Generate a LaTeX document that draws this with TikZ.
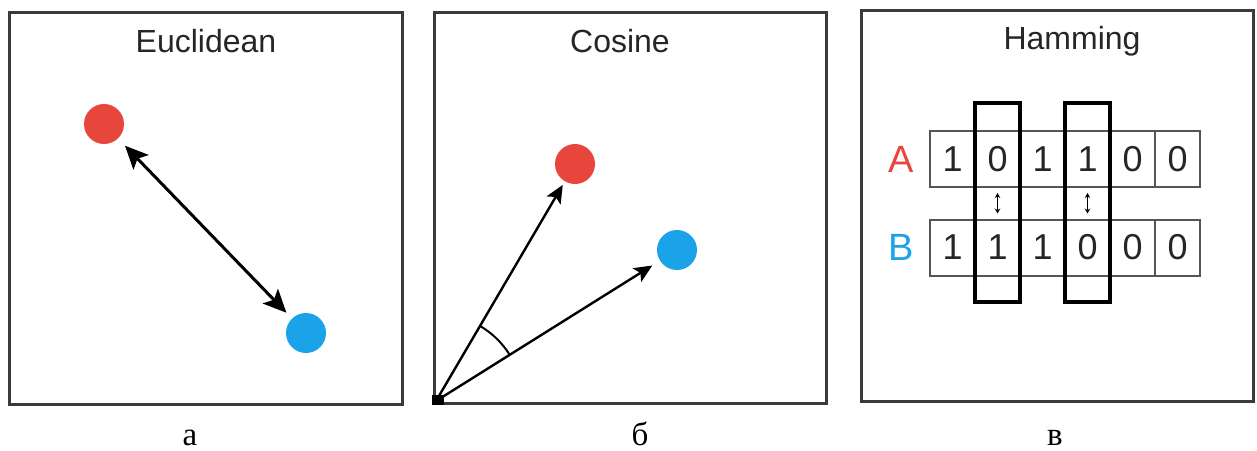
\documentclass[tikz,border=0pt]{standalone}
\usepackage{fontspec}
\setmainfont{Liberation Serif}
\newfontfamily\sansf{Liberation Sans}
\usetikzlibrary{arrows.meta,angles}
\definecolor{dotred}{HTML}{E8453C}
\definecolor{dotblue}{HTML}{1AA3E8}
\definecolor{frame}{HTML}{3A3A3A}
\definecolor{gridc}{HTML}{555555}
\tikzset{
  panel/.style={draw=frame,line width=3pt},
  title/.style={font=\sansf\fontsize{32}{36}\selectfont,text=black!85,anchor=base},
  caption/.style={font=\fontsize{33}{36}\selectfont,anchor=base},
  dot/.style={circle,fill=#1,minimum size=40pt,inner sep=0pt},
  eucarrow/.style={line width=3pt,{Stealth[length=23pt,width=21pt,inset=5pt]}-{Stealth[length=23pt,width=21pt,inset=5pt]}},
  cosarrow/.style={line width=2.4pt,-{Stealth[length=18pt,width=16pt,inset=4pt]}},
  cell/.style={draw=gridc,line width=2pt,minimum width=45pt,minimum height=56pt,inner sep=0pt,font=\sansf\fontsize{36}{40}\selectfont,text=black!85},
  hilite/.style={draw=black,line width=4pt},
  diffarrow/.style={line width=1.5pt,{Stealth[length=5pt,width=5.5pt]}-{Stealth[length=5pt,width=5.5pt]}},
  rowlabel/.style={font=\sansf\fontsize{38}{42}\selectfont}
}
\begin{document}
\begin{tikzpicture}[x=1pt,y=-1pt]
\useasboundingbox (0,0) rectangle (1257,450);
% Panel a: Euclidean
\draw[panel] (9,12) rectangle (402,404);
\node[title] (t1) at (206,52) {Euclidean};
\node[dot=dotred] (r1) at (104,124) {};
\node[dot=dotblue] (b1) at (306,333) {};
\draw[eucarrow,shorten <=10pt,shorten >=8pt] (r1) -- (b1);
\node[caption] (c1) at (190,445) {а};
% Panel b: Cosine
\draw[panel] (434,12) rectangle (826,403);
\node[title] (t2) at (620,52) {Cosine};
\coordinate (o) at (436,401);
\node[dot=dotred] (r2) at (575,164) {};
\node[dot=dotblue] (b2) at (677,250) {};
\draw[cosarrow,shorten >=4pt] (o) -- (r2);
\draw[cosarrow,shorten >=9pt] (o) -- (b2);
\pic[draw,line width=2pt,angle radius=87pt] {angle=b2--o--r2};
\fill[black] (o) ++(-4,-6) rectangle ++(12,10);
\node[caption] (c2) at (640,445) {б};
% Panel c: Hamming
\draw[panel] (861,10) rectangle (1253,401);
\node[title] (t3) at (1072,49) {Hamming};
\foreach \v [count=\i] in {1,0,1,1,0,0}{
  \node[cell] (a\i) at ({952.5+45*(\i-1)},159) {\v};
}
\foreach \v [count=\i] in {1,1,1,0,0,0}{
  \node[cell] (b\i) at ({952.5+45*(\i-1)},247.5) {\v};
}
\draw[hilite] (975,103) rectangle (1020,302);
\draw[hilite] (1065,103) rectangle (1110,302);
\draw[diffarrow,shorten <=5pt,shorten >=5pt] (a2.south) -- (b2.north);
\draw[diffarrow,shorten <=5pt,shorten >=5pt] (a4.south) -- (b4.north);
\node[rowlabel,text=dotred] (la) at (901,159) {A};
\node[rowlabel,text=dotblue] (lb) at (901,247) {B};
\node[caption] (c3) at (1055,445) {в};
\end{tikzpicture}
\end{document}
